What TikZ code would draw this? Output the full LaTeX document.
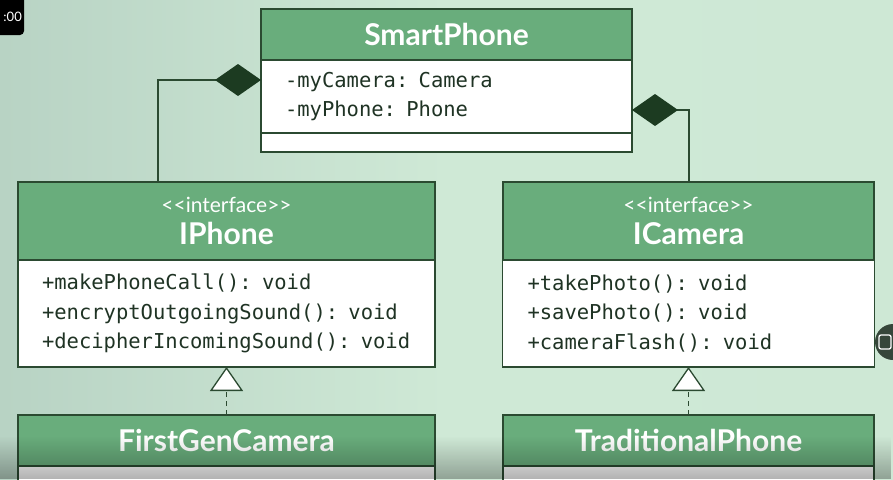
\documentclass[tikz,border=0pt]{standalone}
\usepackage{fontspec}
\setmainfont{Lato}
\setmonofont{DejaVu Sans Mono}
\usetikzlibrary{arrows.meta,fadings,positioning}

\definecolor{umlhead}{RGB}{105,173,124}
\definecolor{umlline}{RGB}{43,74,49}
\definecolor{umldiamond}{RGB}{28,59,33}
\definecolor{umltext}{RGB}{31,51,36}
\definecolor{bgdark}{RGB}{184,211,196}
\definecolor{bglight}{RGB}{207,233,214}

\tikzset{
  classhead/.style={draw=umlline, fill=umlhead, line width=1.3pt, outer sep=0pt,
    text=white, align=center, inner sep=0pt},
  classbody/.style={draw=umlline, fill=white, line width=1.3pt, outer sep=0pt,
    text=umltext, align=left, inner xsep=24pt, inner ysep=0pt,
    font=\fontsize{20.5}{29.5}\selectfont\ttfamily},
  aggregation/.style={draw=umlline, line width=1.3pt,
    -{Diamond[length=46pt,width=32pt,color=umldiamond,fill=umldiamond]}},
  realize/.style={draw=umlline, line width=1.3pt, dash pattern=on 5pt off 4pt,
    -{Triangle[open,length=24pt,width=33pt,fill=white]}},
}
\newcommand{\stereo}{{\fontsize{21}{24}\selectfont <{}<interface>{}>}}
\newcommand{\cname}[1]{{\fontsize{30}{32}\selectfont\bfseries #1}}

\begin{document}
\begin{tikzpicture}[x=1pt,y=-1pt]
  \clip (0,0) rectangle (893,479);
  % background
  \shade[left color=bgdark, right color=bglight!96!bgdark, middle color=bglight] (0,0) rectangle (893,479);

  % SmartPhone
  \node[classhead, minimum width=371, minimum height=51] (sp-head) at (446.5,34.5) {\cname{SmartPhone}};
  \node[classbody, minimum width=371, minimum height=73, text width=323, below=0pt of sp-head] (sp-attr)
    {-myCamera: Camera\\-myPhone: Phone};
  \node[classbody, minimum width=371, minimum height=19, below=0pt of sp-attr] (sp-ops) {};

  % IPhone
  \node[classhead, minimum width=417, minimum height=78] (iphone-head) at (226.5,221)
    {\stereo\\[8pt]\cname{IPhone}};
  \node[classbody, minimum width=417, minimum height=107, text width=369, below=0pt of iphone-head] (iphone-ops)
    {+makePhoneCall(): void\\+encryptOutgoingSound(): void\\+decipherIncomingSound(): void};

  % ICamera
  \node[classhead, minimum width=371, minimum height=78] (icamera-head) at (688.5,221)
    {\stereo\\[8pt]\cname{ICamera}};
  \node[classbody, minimum width=371, minimum height=107, text width=322, inner xsep=25pt, below=0pt of icamera-head] (icamera-ops)
    {+takePhoto(): void\\+savePhoto(): void\\+cameraFlash(): void};

  % implementations
  \node[classhead, minimum width=417, minimum height=51] (firstgen-head) at (226.5,440.5) {\cname{FirstGenCamera}};
  \node[classbody, minimum width=417, minimum height=40, below=0pt of firstgen-head] (firstgen-body) {};
  \node[classhead, minimum width=371, minimum height=51] (trad-head) at (688.5,440.5) {\cname{TraditionalPhone}};
  \node[classbody, minimum width=371, minimum height=40, below=0pt of trad-head] (trad-body) {};

  % composition links
  \coordinate (sp-hasphone) at ([yshift=16.5pt]sp-attr.west);
  \coordinate (sp-hascam) at ([yshift=-13.5pt]sp-attr.east);
  \coordinate (ip-top) at ([xshift=-68.5pt]iphone-head.north);
  \coordinate (ic-top) at ([xshift=0.5pt]icamera-head.north);
  \draw[aggregation] (ip-top) |- (sp-hasphone);
  \draw[aggregation] (ic-top) |- (sp-hascam);

  % realization links
  \draw[realize] (firstgen-head) -- (iphone-ops);
  \draw[realize] (trad-head) -- (icamera-ops);

  % bottom fade of the video frame
  \fill[black, opacity=0.3, path fading=north] (0,436) rectangle (893,479);

  % player overlay
  \fill[black, rounded corners=4pt] (-10,-6) rectangle (24,35);
  \node[text=white, anchor=east, inner sep=0pt, font=\fontsize{13}{14}\selectfont] (clock) at (22,17) {:00};
  \node[circle, fill=black!60!umlline, fill opacity=0.8, minimum size=36, inner sep=0pt] (zoom-btn) at (893,342) {};
  \draw[white, line width=1.3pt, rounded corners=2pt] (879,335) rectangle (891,349);
\end{tikzpicture}
\end{document}
